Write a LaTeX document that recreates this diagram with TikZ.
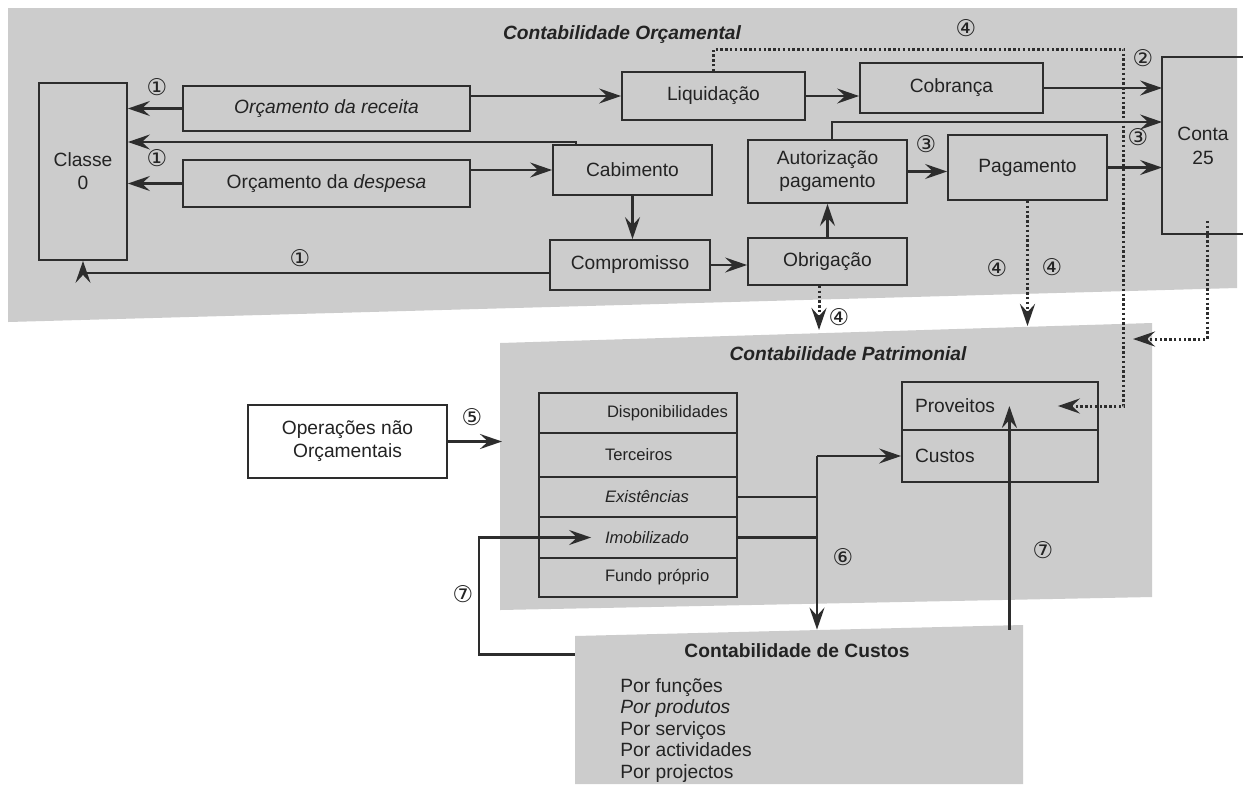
\documentclass[tikz,border=0pt]{standalone}
\usepackage{fontspec}
\setmainfont{Liberation Sans}
\newfontfamily\symfont{DejaVu Sans}
\usetikzlibrary{arrows.meta,calc}
\definecolor{bg}{RGB}{204,204,204}
\definecolor{ln}{RGB}{45,45,45}
\definecolor{tx}{RGB}{35,35,35}
\begin{document}
\begin{tikzpicture}[x=0.5pt,y=-0.5pt,
  box/.style={draw=ln, line width=0.9pt, rectangle, inner sep=0pt, text=tx,
    font=\fontsize{9.6}{11.5}\selectfont},
  row/.style={box, minimum width=99pt, text width=99pt, inner xsep=0pt, align=left,
    font=\fontsize{8.3}{10}\selectfont},
  pc/.style={box, minimum width=98pt, text width=85pt, inner xsep=6.5pt, align=left},
  title/.style={text=tx, inner sep=0pt, font=\fontsize{9.6}{11.5}\selectfont\bfseries},
  item/.style={text=tx, inner sep=0pt, anchor=base west, font=\fontsize{9.6}{11.5}\selectfont},
  num/.style={text=tx, inner sep=0pt, font=\symfont\fontsize{11.5}{12}\selectfont},
  arr/.style={draw=ln, line width=1.3pt, -{Stealth[length=11pt,width=7.5pt,inset=4pt]}},
  dotarr/.style={arr, line width=1.5pt, dash pattern=on 1.2pt off 1.2pt},
  plain/.style={draw=ln, line width=1.3pt},
  boxline/.style={draw=ln, line width=0.9pt}
]
\useasboundingbox (0,0) rectangle (1243,784);
\fill[white] (0,0) rectangle (1243,784);
% backgrounds
\fill[bg] (8,8) -- (1237,8) -- (1237,288) -- (8,322) -- cycle;
\fill[bg] (500,343) -- (1152,323) -- (1152,597) -- (500,610) -- cycle;
\fill[bg] (575,636) -- (1023,625) -- (1023,784) -- (575,784) -- cycle;
\node[draw=none, minimum width=224pt, minimum height=77pt, inner sep=0pt] (ccust) at (799,707) {};

% titles
\node[title, font=\fontsize{9.6}{11.5}\selectfont\bfseries\itshape] (torc) at (622,35) {Contabilidade Orçamental};
\node[title, font=\fontsize{9.6}{11.5}\selectfont\bfseries\itshape] (tpat) at (848,354) {Contabilidade Patrimonial};
\node[title] (tcus) at (797,651) {Contabilidade de Custos};

% top boxes
\node[box, minimum width=44pt, minimum height=88.5pt, align=center] (classe) at (83,171.5) {Classe\\0};
\node[box, minimum width=143.5pt, minimum height=22.5pt] (rec) at (326.5,108.5) {\itshape Orçamento da receita};
\node[box, minimum width=143.5pt, minimum height=23.5pt] (desp) at (326.5,183.5) {Orçamento da \textit{despesa}};
\node[box, minimum width=91.5pt, minimum height=24pt] (liq) at (713.5,96) {Liquidação};
\node[box, minimum width=79.5pt, minimum height=25pt] (cab) at (632.5,170) {Cabimento};
\node[box, minimum width=80pt, minimum height=25pt] (comp) at (630,265) {Compromisso};
\node[box, minimum width=79.5pt, minimum height=23.5pt] (obr) at (827.5,261.5) {Obrigação};
\node[box, minimum width=79.5pt, minimum height=31.5pt, align=center] (aut) at (827.5,171.5) {Autorização\\pagamento};
\node[box, minimum width=91.5pt, minimum height=25pt] (cob) at (951.5,88) {Cobrança};
\node[box, minimum width=79.5pt, minimum height=32.5pt] (pag) at (1027.5,167.5) {Pagamento};
\node[box, draw=none, minimum width=40pt, minimum height=87.5pt, align=center,
  font=\fontsize{9.6}{12}\selectfont] (conta) at (1203,145.5) {Conta\\25};
\draw[boxline] (conta.north east) -- (conta.north west) -- (conta.south west) -- (conta.south east);

% patrimonial
\node[box, fill=white, minimum width=99.5pt, minimum height=36.5pt, align=center] (ops) at (347.5,441.5) {Operações não\\Orçamentais};
\node[row, minimum height=20pt] (disp) at (638,413) {\hspace*{34pt}Disponibilidades};
\node[row, minimum height=22pt] (terc) at (638,455) {\hspace*{33pt}Terceiros};
\node[row, minimum height=20pt] (exist) at (638,497) {\hspace*{33pt}\itshape Existências};
\node[row, minimum height=20.5pt] (imob) at (638,537.5) {\hspace*{33pt}\itshape Imobilizado};
\node[row, minimum height=19.5pt] (fundo) at (638,577.5) {\hspace*{33pt}Fundo próprio};
\node[pc, minimum height=24pt] (prov) at (1000,406) {Proveitos};
\node[pc, minimum height=26pt] (cust) at (1000,456) {Custos};

% custos items
\node[item] (i1) at (620,692) {Por funções};
\node[item] (i2) at (620,713.5) {\itshape Por produtos};
\node[item] (i3) at (620,735) {Por serviços};
\node[item] (i4) at (620,756.5) {Por actividades};
\node[item] (i5) at (620,778) {Por projectos};

% circled numbers
\node[num] (n1a) at (157,87) {①};
\node[num] (n1b) at (157,158) {①};
\node[num] (n1c) at (300,258) {①};
\node[num] (n4a) at (966,28) {④};
\node[num] (n2) at (1143,58) {②};
\node[num] (n3a) at (926,144) {③};
\node[num] (n3b) at (1138,137) {③};
\node[num] (n4b) at (997,268) {④};
\node[num] (n4c) at (1052,267) {④};
\node[num] (n4d) at (839,317) {④};
\node[num] (n5) at (472,417) {⑤};
\node[num] (n7a) at (463,594) {⑦};
\node[num] (n6) at (843,557) {⑥};
\node[num] (n7b) at (1043,550) {⑦};

% connectors (orcamental)
\draw[arr] (rec.west) -- (rec.west -| classe.east);
\draw[arr] (desp.west) -- (desp.west -| classe.east);
\draw[arr] ($(cab.north west)+(24,0)$) |- ($(classe.east)+(0,-29.5)$);
\draw[arr] ($(comp.west)+(0,8)$) -| (classe.south);
\draw[arr] (rec.east |- liq.west) -- (liq.west);
\draw[arr] (desp.east |- cab.west) -- (cab.west);
\draw[arr] (cab.south) -- (cab.south |- comp.north);
\draw[arr] (comp.east) -- (comp.east -| obr.west);
\draw[arr] (obr.north) -- (aut.south);
\draw[arr] (liq.east) -- (liq.east -| cob.west);
\draw[arr] (aut.east) -- (aut.east -| pag.west);
\draw[arr] (cob.east) -- (cob.east -| conta.west);
\draw[arr] ($(aut.north)+(4.5,0)$) |- ($(conta.west)+(0,-23.5)$);
\draw[arr] (pag.east) -- (pag.east -| conta.west);

% dotted connectors
\draw[dotarr] (liq.north) -- ++(0,-22) -| ($(prov.east)+(25,0)$) -- ($(prov.east)+(-41,0)$);
\coordinate (p4a) at (819,330);
\draw[dotarr] (obr.south -| p4a) -- (p4a);
\coordinate (p4b) at (1027.5,326);
\draw[dotarr] (pag.south) -- (p4b);
\coordinate (p4c) at (1133,339);
\draw[dotarr] ($(conta.south)+(4,-13)$) |- (p4c);

% patrimonial connectors
\coordinate (p5) at (502,441.5);
\draw[arr] (ops.east) -- (p5);
\coordinate (j6) at (817,456);
\draw[plain] (exist.east) -- (exist.east -| j6);
\draw[plain] (imob.east) -- (imob.east -| j6);
\draw[arr] (j6) -- (j6 |- ccust.north);
\draw[arr] (j6) -- (cust.west);
\draw[arr] ($(ccust.north west)+(0,25)$) -| ($(imob.west)+(-59,0)$) -- ($(imob.west)+(53,0)$);
\coordinate (r7) at ($(ccust.north east)+(-14,0)$);
\draw[arr] (r7) -- (r7 |- prov.center);
\end{tikzpicture}
\end{document}
